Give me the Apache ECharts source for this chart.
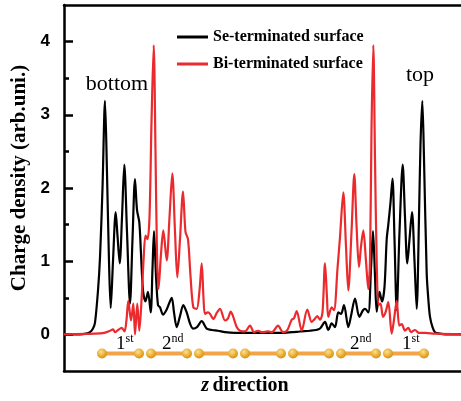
<!DOCTYPE html>
<html>
<head>
<meta charset="utf-8">
<script src="https://cdn.jsdelivr.net/npm/echarts@6/dist/echarts.min.js"></script>
<style>
html, body { margin: 0; padding: 0; background: #fff; }
#chart { width: 461px; height: 401px; }
</style>
</head>
<body>
<div id="chart"></div>
<script>
// z position (arb. units along the slab) and charge density
const seZ = [0, 16, 22, 26, 29, 31, 34, 36, 38.5, 41, 43, 45, 46.7, 49, 51.7, 53.5, 55.7, 58, 60.3, 63, 66, 68.5, 71, 73, 75.3, 77, 79, 81.5, 84, 86.7, 88.5, 90, 92, 94, 96, 99, 103, 107.7, 110, 112.7, 116, 119.3, 122.7, 126, 129, 133, 137.7, 142.7, 148, 154, 161, 171, 186, 201, 216, 228, 236, 246, 252, 256, 261, 264.3, 267.7, 271, 274.3, 277, 280, 284.3, 287, 291, 295.3, 299, 301, 304.3, 307, 309, 311, 312.7, 315.5, 318, 320.5, 322.7, 324.3, 326.5, 328.5, 330.5, 332.7, 335.5, 338.7, 341, 343.3, 345.5, 348, 350.5, 352.7, 355, 356.5, 358.3, 360, 362.7, 364.5, 366, 368.5, 371, 376, 381, 397]
const seVal = [0, 0, 0.01, 0.03, 0.08, 0.16, 0.6, 1.05, 2.0, 3.19, 2.2, 1.0, 0.36, 1.0, 1.67, 1.35, 0.97, 1.6, 2.32, 1.4, 0.42, 1.3, 2.12, 1.7, 1.53, 1.1, 0.6, 0.45, 0.58, 0.3, 0.9, 1.41, 0.8, 0.4, 0.37, 0.27, 0.35, 0.5, 0.3, 0.1, 0.25, 0.4, 0.3, 0.15, 0.08, 0.1, 0.18, 0.08, 0.06, 0.05, 0.03, 0.02, 0.02, 0.02, 0.02, 0.03, 0.04, 0.05, 0.06, 0.08, 0.17, 0.06, 0.15, 0.1, 0.3, 0.28, 0.4, 0.1, 0.25, 0.49, 0.24, 0.33, 0.35, 0.3, 0.9, 1.41, 0.8, 0.31, 0.58, 0.45, 0.65, 1.3, 1.5, 1.8, 2.13, 1.3, 0.33, 1.4, 2.32, 1.6, 0.97, 1.3, 1.67, 1.0, 0.35, 1.6, 2.6, 3.19, 2.4, 0.83, 0.45, 0.24, 0.1, 0.03, 0.01, 0, 0]

const biZ = [0, 30, 40, 46, 49, 51, 54, 57.7, 60.5, 62.5, 64.3, 67, 69.3, 71, 73.3, 75.3, 77.7, 79.5, 81.5, 83.5, 85.5, 87.5, 89.7, 91.5, 93, 94.5, 97, 99.3, 102.7, 105.5, 108.3, 111, 113.3, 116, 119, 121.5, 124, 126.5, 129.3, 132.7, 135.5, 137.7, 139.5, 141, 144, 146, 149.3, 153, 156, 161, 164, 166.7, 169, 172.7, 176, 181, 186, 190, 194, 198, 204, 208, 214, 219, 223, 227.7, 230, 232.7, 237.7, 243.3, 247.7, 250, 253.3, 256, 258.5, 261, 263, 264.3, 267.7, 270, 273.5, 276, 279.3, 282, 284.3, 287.5, 290.3, 292.5, 295, 297, 299.3, 302, 304.3, 306, 307.5, 309.3, 311, 312.7, 314.5, 316.5, 319, 321.5, 324.3, 327.7, 330, 332.7, 335.3, 337.7, 341, 344.3, 347, 351, 355, 361, 371, 397]
const biVal = [0, 0.01, 0.02, 0.05, 0.07, 0.03, 0.06, 0.09, 0.04, 0.2, 0.46, 0.19, 0.42, 0, 0.42, 0.05, 0.51, 1.0, 1.35, 1.3, 1.6, 2.9, 3.95, 2.5, 1.1, 0.62, 1.1, 1.42, 1.01, 1.6, 2.2, 1.4, 0.78, 1.3, 1.95, 1.4, 1.3, 0.8, 0.37, 0.35, 0.6, 0.97, 0.5, 0.28, 0.3, 0.28, 0.21, 0.3, 0.35, 0.19, 0.22, 0.31, 0.25, 0.1, 0.05, 0.04, 0.12, 0.03, 0.05, 0.03, 0.04, 0.03, 0.12, 0.03, 0.05, 0.2, 0.22, 0.32, 0.05, 0.34, 0.17, 0.2, 0.25, 0.2, 0.3, 0.97, 0.5, 0.24, 0.37, 0.33, 0.9, 1.33, 1.94, 1.2, 0.6, 1.4, 2.19, 1.5, 0.92, 1.2, 1.42, 1.0, 0.62, 1.0, 2.8, 3.95, 2.4, 1.0, 0.4, 0.42, 0.24, 0.3, 0.44, 0.01, 0.2, 0.46, 0.12, 0.14, 0.05, 0.09, 0.03, 0.06, 0.02, 0.02, 0.01, 0]

// quintuple layers drawn under the curves
const layerStart = [38, 87, 135, 181, 229, 277, 324]
const layerEnd = [75, 123, 169, 217, 265, 312, 360]
const layerLevel = -0.26

const yTicks = [0, 1, 2, 3, 4]
const yMinorTicks = [0.5, 1.5, 2.5, 3.5]

const serif = 'Liberation Serif'
const chart = echarts.init(document.getElementById('chart'))

const zip = (xs, ys) => xs.map((x, i) => [x, ys[i]])

const ball = new echarts.graphic.RadialGradient(0.4, 0.35, 0.7, [
	{ offset: 0, color: '#ffe08a' },
	{ offset: 1, color: '#d98a00' }
])

let layerSeries = layerStart.map((s, i) => ({
	type: 'line',
	silent: true,
	data: [[s, layerLevel], [layerEnd[i], layerLevel]],
	symbol: 'circle',
	symbolSize: 10,
	lineStyle: { color: '#f2a548', width: 4 },
	itemStyle: { color: ball },
	z: 1
}))

const supRich = {
	n: { fontFamily: serif, fontSize: 19, lineHeight: 22 },
	s: { fontFamily: serif, fontSize: 12, lineHeight: 12, verticalAlign: 'top' }
}

let option = {
	animation: false,
	grid: { left: 64, top: 5, right: 0, bottom: 30 },
	legend: {
		data: ['Se-terminated surface', 'Bi-terminated surface'],
		orient: 'vertical',
		left: 172,
		top: 24,
		icon: 'rect',
		itemWidth: 31,
		itemHeight: 3,
		itemGap: 11,
		textStyle: { fontFamily: serif, fontWeight: 'bold', fontSize: 16, color: '#000' }
	},
	xAxis: [{
		type: 'value',
		min: 0,
		max: 397,
		axisLine: { onZero: false, lineStyle: { color: '#000', width: 2.5 } },
		axisTick: { show: false },
		axisLabel: { show: false },
		splitLine: { show: false }
	}, {
		type: 'value',
		position: 'top',
		min: 0,
		max: 397,
		axisLine: { onZero: false, lineStyle: { color: '#000', width: 2.5 } },
		axisTick: { show: false },
		axisLabel: { show: false },
		splitLine: { show: false }
	}],
	yAxis: [{
		type: 'value',
		min: -0.5,
		max: 4.5,
		axisLine: { show: true, onZero: false, lineStyle: { color: '#000', width: 2.5 } },
		axisTick: { inside: true, length: 9, customValues: yTicks, lineStyle: { color: '#000', width: 2.5 } },
		axisLabel: { customValues: yTicks, fontFamily: 'Liberation Sans', fontWeight: 'bold', fontSize: 17, color: '#000', margin: 14 },
		splitLine: { show: false }
	}, {
		type: 'value',
		min: -0.5,
		max: 4.5,
		position: 'left',
		axisLine: { show: false, onZero: false },
		axisTick: { inside: true, length: 5, customValues: yMinorTicks, lineStyle: { color: '#000', width: 2.5 } },
		axisLabel: { show: false },
		splitLine: { show: false }
	}],
	series: [
		...layerSeries,
		{
			name: 'Se-terminated surface',
			type: 'line',
			data: zip(seZ, seVal),
			symbol: 'none',
			smooth: 0.3,
			lineStyle: { color: '#000', width: 2.2 },
			itemStyle: { color: '#000' },
			z: 3
		},
		{
			name: 'Bi-terminated surface',
			type: 'line',
			data: zip(biZ, biVal),
			symbol: 'none',
			smooth: 0.3,
			lineStyle: { color: '#eb2a2e', width: 2.2 },
			itemStyle: { color: '#eb2a2e' },
			z: 4
		}
	],
	graphic: [
		{ type: 'text', x: 117, y: 84, style: { text: 'bottom', fontFamily: serif, fontSize: 22, fill: '#000', align: 'center', verticalAlign: 'middle' } },
		{ type: 'text', x: 420, y: 75, style: { text: 'top', fontFamily: serif, fontSize: 22, fill: '#000', align: 'center', verticalAlign: 'middle' } },
		{ type: 'text', x: 116, y: 333, style: { text: '{n|1}{s|st}', rich: supRich, fill: '#000' } },
		{ type: 'text', x: 162, y: 333, style: { text: '{n|2}{s|nd}', rich: supRich, fill: '#000' } },
		{ type: 'text', x: 350, y: 333, style: { text: '{n|2}{s|nd}', rich: supRich, fill: '#000' } },
		{ type: 'text', x: 402, y: 333, style: { text: '{n|1}{s|st}', rich: supRich, fill: '#000' } },
		{ type: 'text', x: 245, y: 386, style: { text: '{i|z} {b|direction}', rich: { i: { fontFamily: serif, fontSize: 20, fontWeight: 'bold', fontStyle: 'italic' }, b: { fontFamily: serif, fontSize: 20, fontWeight: 'bold' } }, fill: '#000', align: 'center', verticalAlign: 'middle' } },
		{ type: 'text', x: 20, y: 178, rotation: Math.PI / 2, style: { text: 'Charge density (arb.uni.)', fontFamily: serif, fontSize: 21, fontWeight: 'bold', fill: '#000', align: 'center', verticalAlign: 'middle' } }
	]
}

chart.setOption(option)
</script>
</body>
</html>
